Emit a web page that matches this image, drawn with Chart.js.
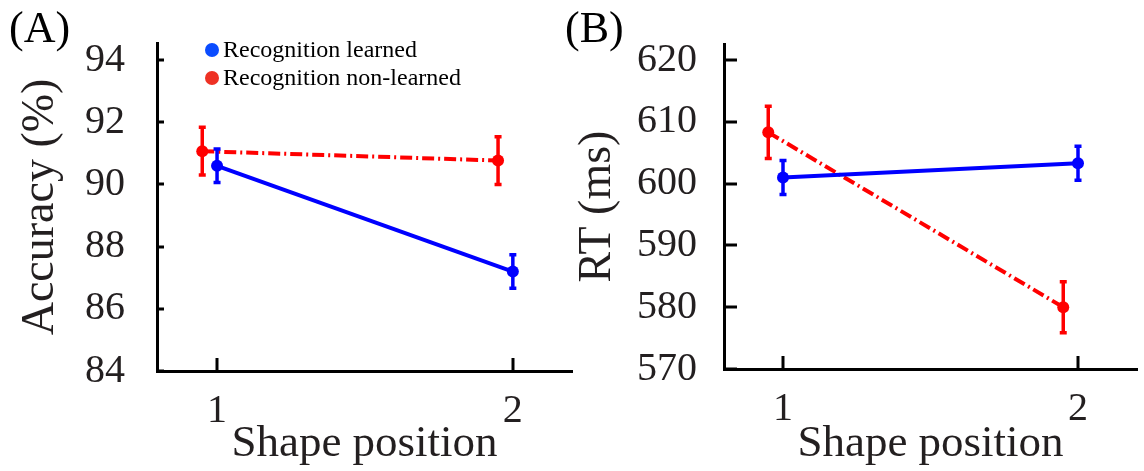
<!DOCTYPE html>
<html>
<head>
<meta charset="utf-8">
<script src="https://cdn.jsdelivr.net/npm/chart.js@4/dist/chart.umd.min.js"></script>
<style>
  html, body { margin: 0; padding: 0; background: #fff; }
  #wrap { position: relative; width: 1144px; height: 471px; overflow: hidden; }
  .panel { position: absolute; top: 0; }
  #pa { left: 0; }
  #pb { left: 560px; }
</style>
</head>
<body>
<div id="wrap">
  <div class="panel" id="pa"><canvas id="ca" width="600" height="471"></canvas></div>
  <div class="panel" id="pb"><canvas id="cb" width="584" height="471"></canvas></div>
</div>
<script>
// Shape positions on the x axis and the series names
const shapePositions = [1, 2];
const seriesNames = ['Recognition learned', 'Recognition non-learned'];

// (A) accuracy, % (mean and error)
const accLearned = [90.6, 87.2];
const accLearnedErr = [0.57, 0.57];
const accNonLearned = [91.07, 90.77];
const accNonLearnedErr = [0.8, 0.8];
const accTicks = [84, 86, 88, 90, 92, 94];

// (B) reaction time, ms (mean and error)
const rtLearned = [601.0, 603.3];
const rtLearnedErr = [2.9, 2.9];
const rtNonLearned = [608.3, 580.0];
const rtNonLearnedErr = [4.4, 4.3];
const rtTicks = [570, 580, 590, 600, 610, 620];

const SERIF = "'Liberation Serif', 'Times New Roman', serif";
const TEXT = '#231f20';
const BLUE = '#0000ff';
const RED = '#ff0000';
const DODGE = -0.05; // small horizontal shift for the non-learned series

function pts(values, shift) {
  return shapePositions.map((p, i) => ({ x: p + shift, y: values[i] }));
}

// Error bars, inward tick marks, panel letter and in-plot legend
const decorPlugin = {
  id: 'decor',
  afterDatasetDraw(chart, args, opts) {
    const ds = chart.data.datasets[args.index];
    if (!ds.errors) return;
    const ctx = chart.ctx;
    const ys = chart.scales.y;
    ctx.save();
    ctx.strokeStyle = ds.borderColor;
    ctx.lineWidth = 3.5;
    ctx.lineCap = 'butt';
    args.meta.data.forEach((pt, i) => {
      const v = ds.data[i].y;
      const e = ds.errors[i];
      const yTop = ys.getPixelForValue(v + e);
      const yBot = ys.getPixelForValue(v - e);
      ctx.beginPath();
      ctx.moveTo(pt.x, yTop);
      ctx.lineTo(pt.x, yBot);
      ctx.moveTo(pt.x - 3.5, yTop + 1);
      ctx.lineTo(pt.x + 3.5, yTop + 1);
      ctx.moveTo(pt.x - 3.5, yBot - 1);
      ctx.lineTo(pt.x + 3.5, yBot - 1);
      ctx.stroke();
    });
    ctx.restore();
  },
  beforeDatasetsDraw(chart, args, opts) {
    const ctx = chart.ctx;
    const { x: xs, y: ys } = chart.scales;
    const area = chart.chartArea;
    ctx.save();
    ctx.strokeStyle = '#000';
    ctx.lineWidth = 3;
    ys.ticks.forEach(t => {
      const py = Math.round(ys.getPixelForValue(t.value));
      ctx.beginPath();
      ctx.moveTo(area.left, py);
      ctx.lineTo(area.left + opts.yTickLen, py);
      ctx.stroke();
    });
    xs.ticks.forEach(t => {
      const px = Math.round(xs.getPixelForValue(t.value));
      ctx.beginPath();
      ctx.moveTo(px, area.bottom);
      ctx.lineTo(px, area.bottom - opts.xTickLen);
      ctx.stroke();
    });
    ctx.restore();
  },
  afterDraw(chart, args, opts) {
    const ctx = chart.ctx;
    ctx.save();
    ctx.fillStyle = '#000';
    ctx.font = '44px ' + SERIF;
    ctx.textBaseline = 'alphabetic';
    ctx.textAlign = 'left';
    ctx.fillText(opts.letter, opts.letterX, opts.letterY);
    if (opts.legend) {
      const lg = opts.legend;
      ctx.font = '24px ' + SERIF;
      chart.data.datasets.forEach((ds, i) => {
        const cy = lg.y + i * lg.gap;
        ctx.fillStyle = lg.colors[i];
        ctx.beginPath();
        ctx.arc(lg.x, cy, 7, 0, Math.PI * 2);
        ctx.fill();
        ctx.fillStyle = '#000';
        ctx.textBaseline = 'middle';
        ctx.fillText(ds.label, lg.x + 11, cy + 1);
      });
    }
    ctx.restore();
  }
};

function makePanel(canvasId, cfg) {
  const datasets = [
    {
      label: seriesNames[0],
      data: pts(cfg.learned, 0),
      errors: cfg.learnedErr,
      borderColor: BLUE,
      backgroundColor: BLUE,
      borderWidth: 4,
      pointRadius: 6,
      pointBorderWidth: 0,
      showLine: true
    },
    {
      label: seriesNames[1],
      data: pts(cfg.nonLearned, DODGE),
      errors: cfg.nonLearnedErr,
      borderColor: RED,
      backgroundColor: RED,
      borderWidth: 4,
      borderDash: [12, 4, 2, 4],
      pointRadius: 6,
      pointBorderWidth: 0,
      showLine: true
    }
  ];
  return new Chart(document.getElementById(canvasId), {
    type: 'scatter',
    data: { datasets },
    plugins: [decorPlugin],
    options: {
      responsive: false,
      animation: false,
      events: [],
      layout: { padding: { top: cfg.top, right: cfg.right, left: 0, bottom: 0 } },
      plugins: {
        legend: { display: false },
        tooltip: { enabled: false },
        decor: cfg.decor
      },
      scales: {
        x: {
          type: 'linear',
          min: cfg.xMin,
          max: cfg.xMax,
          afterBuildTicks: axis => { axis.ticks = shapePositions.map(v => ({ value: v })); },
          afterFit: axis => { axis.height = cfg.xAxisHeight; },
          grid: { display: false, drawTicks: true, tickLength: cfg.xTickPad },
          border: { display: true, color: '#000', width: 3 },
          ticks: {
            color: TEXT,
            font: { family: SERIF, size: 40 },
            padding: 0,
            maxRotation: 0,
            callback: v => String(v)
          },
          title: {
            display: true,
            text: 'Shape position',
            color: TEXT,
            font: { family: SERIF, size: 45 },
            padding: { top: 0, bottom: cfg.xTitlePad }
          }
        },
        y: {
          type: 'linear',
          min: cfg.yMin,
          max: cfg.yMax,
          afterBuildTicks: axis => { axis.ticks = cfg.yTicks.map(v => ({ value: v })); },
          afterFit: axis => { axis.width = cfg.yAxisWidth; },
          grid: { display: false, drawTicks: true, tickLength: cfg.yTickPad },
          border: { display: true, color: '#000', width: 3 },
          ticks: {
            color: TEXT,
            font: { family: SERIF, size: 40 },
            padding: 0
          },
          title: {
            display: true,
            text: cfg.yTitle,
            color: TEXT,
            font: { family: SERIF, size: 46 },
            padding: { top: cfg.yTitlePad, bottom: 0 }
          }
        }
      }
    }
  });
}

makePanel('ca', {
  learned: accLearned, learnedErr: accLearnedErr,
  nonLearned: accNonLearned, nonLearnedErr: accNonLearnedErr,
  yMin: 84, yMax: 94.55, yTicks: accTicks, yTitle: 'Accuracy (%)',
  xMin: 0.797, xMax: 2.2,
  top: 43, right: 28, yAxisWidth: 157, xAxisHeight: 100,
  yTickPad: 32, xTickPad: 16, yTitlePad: 13, xTitlePad: 0,
  decor: {
    letter: '(A)', letterX: 9, letterY: 42, yTickLen: 7, xTickLen: 13,
    legend: { x: 212, y: 50, gap: 28, colors: ['#0a4cff', '#ee3124'] }
  }
});

makePanel('cb', {
  learned: rtLearned, learnedErr: rtLearnedErr,
  nonLearned: rtNonLearned, nonLearnedErr: rtNonLearnedErr,
  yMin: 570, yMax: 622.6, yTicks: rtTicks, yTitle: 'RT (ms)',
  xMin: 0.8, xMax: 2.2,
  top: 44, right: 7, yAxisWidth: 164, xAxisHeight: 102,
  yTickPad: 27, xTickPad: 16, yTitlePad: 10, xTitlePad: 0,
  decor: { letter: '(B)', letterX: 5, letterY: 42, yTickLen: 13, xTickLen: 13 }
});
</script>
</body>
</html>
